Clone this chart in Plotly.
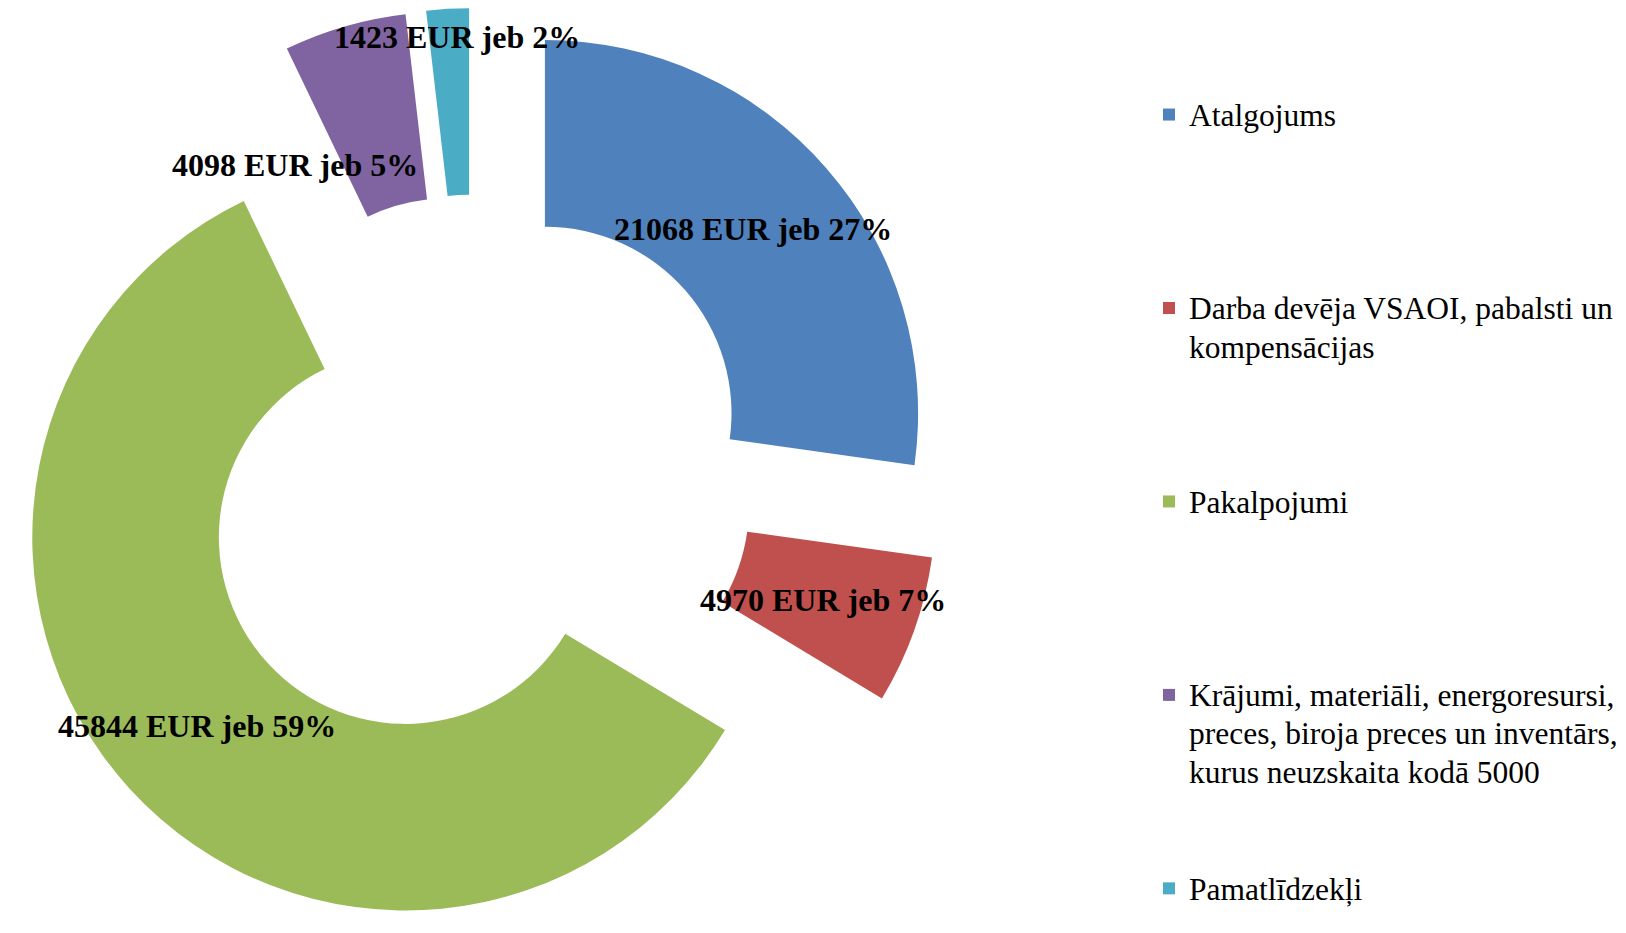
import plotly.graph_objects as go

# ---- data ----
categories = [
    "Atalgojums",
    "Darba devēja VSAOI, pabalsti un<br>kompensācijas",
    "Pakalpojumi",
    "Krājumi, materiāli, energoresursi,<br>preces, biroja preces un inventārs,<br>kurus neuzskaita kodā 5000",
    "Pamatlīdzekļi",
]
values = [21068, 4970, 45844, 4098, 1423]
value_labels = [
    "21068 EUR jeb 27%",
    "4970 EUR jeb 7%",
    "45844 EUR jeb 59%",
    "4098 EUR jeb 5%",
    "1423 EUR jeb 2%",
]

# ---- style ----
colors = ["#4F81BD", "#C0504D", "#9BBB59", "#8064A2", "#4BACC6"]
W, H = 1626, 933
PULL = 0.25
HOLE = 0.5
LEGEND_LINES = 5  # lines reserved per legend entry
LEGEND_TEXT_PX = 31.5
FONT = "Liberation Serif, Times New Roman, serif"
# label offsets relative to pie centre, in units of the pie radius
label_offsets = [(0.747, -0.658), (0.933, 0.337), (-0.743, 0.675),
                 (-0.480, -0.829), (-0.048, -1.171)]

def pad(label, last):
    lines = label.split("<br>")
    styled = "<br>".join(
        '<span style="font-size:%.1fpx">%s</span>' % (LEGEND_TEXT_PX, s) for s in lines)
    if last:
        return styled
    return styled + "<br>\u00a0" * (LEGEND_LINES - len(lines))

legend_labels = [pad(c, i == len(categories) - 1) for i, c in enumerate(categories)]

dom_x = [0, H / W]
fig = go.Figure(go.Pie(
    labels=legend_labels,
    values=values,
    hole=HOLE,
    pull=[PULL] * len(values),
    sort=False,
    direction="clockwise",
    rotation=0,
    marker=dict(colors=colors, line=dict(width=0)),
    textinfo="none",
    hoverinfo="value",
    domain=dict(x=dom_x, y=[0, 1]),
))

# pie geometry (as plotly computes it)
r = min(W * (dom_x[1] - dom_x[0]), H) / (2 + 2 * PULL)
cx = W * (dom_x[0] + dom_x[1]) / 2
cy = H / 2

annotations = []
for txt, (ox, oy) in zip(value_labels, label_offsets):
    px, py = cx + ox * r, cy + oy * r
    annotations.append(dict(
        text="<b>" + txt + "</b>", x=px / W, y=1 - py / H,
        xref="paper", yref="paper", showarrow=False,
        xanchor="center", yanchor="middle",
        font=dict(family=FONT, size=32, color="black"),
    ))

fig.update_layout(
    width=W, height=H,
    margin=dict(l=0, r=0, t=0, b=0),
    paper_bgcolor="white", plot_bgcolor="white",
    showlegend=True,
    legend=dict(
        x=1141 / W, y=1 - 81 / H, xanchor="left", yanchor="top",
        valign="top", maxheight=1,
        font=dict(family=FONT, size=29.3, color="black"),
        bgcolor="rgba(0,0,0,0)",
    ),
    annotations=annotations,
)

fig.write_html("out.html")
